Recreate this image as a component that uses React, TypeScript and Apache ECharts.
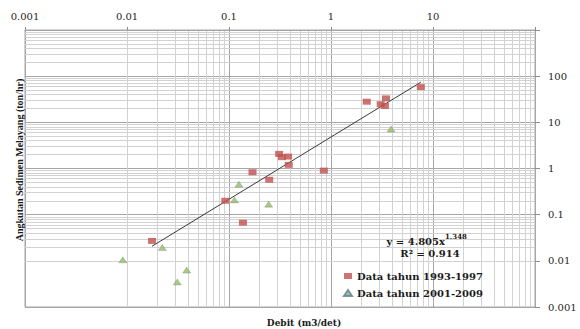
import React, { useEffect, useRef } from "react";
import * as echarts from "echarts";

// Debit (m3/det) and suspended sediment load (ton/hr), period 1993-1997
const discharge1993 = [0.0176, 0.092, 0.137, 0.17, 0.248, 0.31, 0.33, 0.38, 0.385, 0.85, 2.24, 3.46, 3.07, 3.38, 7.6];
const sediment1993 = [0.027, 0.2, 0.067, 0.83, 0.57, 2.07, 1.76, 1.81, 1.2, 0.9, 28, 33, 24.7, 22.6, 58];

// Period 2001-2009
const discharge2001 = [0.0091, 0.0222, 0.0311, 0.0385, 0.113, 0.125, 0.245, 3.88];
const sediment2001 = [0.0105, 0.0194, 0.0035, 0.0063, 0.209, 0.457, 0.169, 7.2];

// Power-law trend fitted on the 1993-1997 data
const TREND_A = 4.805;
const TREND_B = 1.348;
const TREND_R2 = 0.914;

const xTickLabels = ["0.001", "0.01", "0.1", "1", "10"];
const yTickLabels = ["0.001", "0.01", "0.1", "1", "10", "100"];

const seriesNames = ["Data tahun 1993-1997", "Data tahun 2001-2009"];

const SERIF = "'DejaVu Serif', 'Liberation Serif', serif";

function minorValues(fromExp: number, toExp: number): number[] {
  const out: number[] = [];
  for (let e = fromExp; e < toExp; e++) {
    for (let k = 2; k <= 9; k++) out.push(Number((k * Math.pow(10, e)).toPrecision(3)));
  }
  return out;
}

export default function App() {
  const ref = useRef<HTMLDivElement>(null);

  useEffect(() => {
    document.body.style.margin = "0";
    if (!ref.current) return;
    const chart = echarts.init(ref.current, undefined, { renderer: "svg" });

    const redPoints = discharge1993.map((x, i) => [x, sediment1993[i]]);
    const greenPoints = discharge2001.map((x, i) => [x, sediment2001[i]]);
    const xMin = Math.min(...discharge1993);
    const xMax = Math.max(...discharge1993);
    const trend = [xMin, xMax].map((x) => [x, TREND_A * Math.pow(x, TREND_B)]);

    const minorLine = { color: "#d2d2d2", width: 1, type: "solid" as const };
    const gridMarks = [
      ...minorValues(-3, 2).map((v) => ({ xAxis: v })),
      ...minorValues(-3, 3).map((v) => ({ yAxis: v })),
    ];

    const labelIdx = (v: number, offset: number) => Math.round(Math.log10(v)) + offset;

    const textBase = {
      fontFamily: SERIF,
      fontWeight: "bold",
      fill: "#1a1a1a",
      verticalAlign: "middle",
    };

    chart.setOption({
      animation: false,
      grid: {
        left: 25,
        top: 30,
        right: 45,
        bottom: 22,
        show: true,
        borderColor: "#a6a6a6",
        borderWidth: 1,
      },
      xAxis: {
        type: "log",
        logBase: 10,
        min: 0.001,
        max: 100,
        position: "top",
        axisLine: { show: true, lineStyle: { color: "#a6a6a6" } },
        axisTick: { show: true, length: 3, lineStyle: { color: "#8c8c8c" } },
        splitLine: { show: true, lineStyle: { color: "#a6a6a6", width: 1 } },
        axisLabel: {
          margin: 9,
          color: "#262626",
          fontFamily: SERIF,
          fontSize: 10,
          formatter: (v: number) => xTickLabels[labelIdx(v, 3)] ?? "",
        },
      },
      yAxis: {
        type: "log",
        logBase: 10,
        min: 0.001,
        max: 1000,
        position: "right",
        axisLine: { show: true, lineStyle: { color: "#a6a6a6" } },
        axisTick: { show: true, length: 5, lineStyle: { color: "#8c8c8c" } },
        splitLine: { show: true, lineStyle: { color: "#a6a6a6", width: 1 } },
        axisLabel: {
          margin: 13,
          color: "#262626",
          fontFamily: SERIF,
          fontSize: 10,
          formatter: (v: number) => yTickLabels[labelIdx(v, 3)] ?? "",
        },
      },
      legend: {
        data: [
          { name: seriesNames[0], icon: "rect" },
          { name: seriesNames[1], icon: "triangle" },
        ],
        orient: "vertical",
        left: 343,
        top: 271,
        padding: 0,
        itemWidth: 8,
        itemHeight: 6,
        itemGap: 7,
        textStyle: {
          fontFamily: SERIF,
          fontWeight: "bold",
          fontSize: 10,
          color: "#1a1a1a",
        },
      },
      series: [
        {
          type: "line",
          name: "grid-minor",
          data: [],
          silent: true,
          z: 0,
          markLine: {
            silent: true,
            z: 0,
            symbol: "none",
            label: { show: false },
            lineStyle: minorLine,
            data: gridMarks,
            animation: false,
          },
        },
        {
          type: "line",
          name: "trend",
          data: trend,
          showSymbol: false,
          symbol: "none",
          lineStyle: { color: "#3a3a3a", width: 1, type: "solid" },
          z: 3,
          silent: true,
        },
        {
          type: "scatter",
          name: seriesNames[0],
          data: redPoints,
          symbol: "rect",
          symbolSize: [8, 6],
          itemStyle: { color: "#c0504d" },
          z: 4,
        },
        {
          type: "scatter",
          name: seriesNames[1],
          data: greenPoints,
          symbol: "triangle",
          symbolSize: [8, 6],
          itemStyle: { color: "#9bbb59", borderColor: "#5a7f9e", borderWidth: 0.4 },
          z: 4,
        },
      ],
      graphic: [
        {
          type: "text",
          x: 19,
          y: 160,
          rotation: Math.PI / 2,
          z: 10,
          style: {
            ...textBase,
            text: "Angkutan Sedimen Melayang (ton/hr)",
            fontFamily: "'Liberation Serif', serif",
            fontSize: 10,
            align: "center",
          },
        },
        {
          type: "text",
          x: 304,
          y: 323,
          z: 10,
          style: { ...textBase, text: "Debit (m3/det)", fontSize: 9, align: "center" },
        },
        {
          type: "text",
          x: 445,
          y: 241,
          z: 10,
          style: { ...textBase, text: `y = ${TREND_A.toFixed(3)}x`, fontSize: 10, align: "right" },
        },
        {
          type: "text",
          x: 445,
          y: 236,
          z: 10,
          style: { ...textBase, text: TREND_B.toFixed(3), fontSize: 7, align: "left" },
        },
        {
          type: "text",
          x: 430,
          y: 253,
          z: 10,
          style: { ...textBase, text: `R² = ${TREND_R2.toFixed(3)}`, fontSize: 10, align: "center" },
        },
      ],
    });

    return () => chart.dispose();
  }, []);

  return (
    <div
      ref={ref}
      style={{ position: "absolute", left: 0, top: 0, width: 580, height: 329, background: "#fff" }}
    />
  );
}
